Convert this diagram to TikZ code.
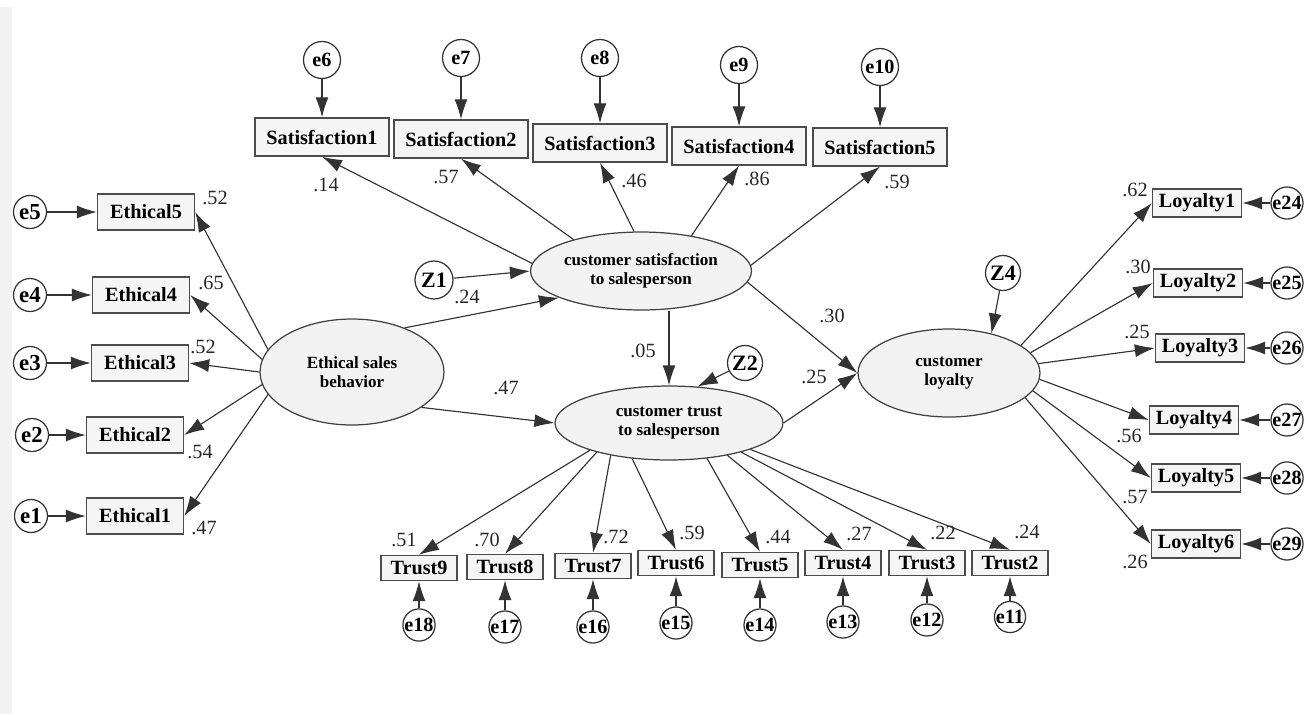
\documentclass[tikz,border=0pt]{standalone}
\usepackage{fontspec}
\setmainfont{Liberation Serif}
\usetikzlibrary{arrows.meta,shapes.geometric}

\tikzset{
  obs/.style={draw=black!70,fill=black!4,line width=0.8pt,inner sep=0pt,
    font=\fontsize{11.5}{12}\selectfont\rmfamily\bfseries},
  lat/.style={ellipse,draw=black!75,fill=black!5,line width=0.7pt,inner sep=0pt,
    align=center,font=\fontsize{9.7}{10.5}\selectfont\rmfamily\bfseries},
  err/.style={circle,draw=black!80,fill=white,line width=0.7pt,inner sep=0pt,
    font=\fontsize{11.5}{12}\selectfont\rmfamily\bfseries},
  num/.style={inner sep=0pt,text=black!85,font=\fontsize{11.5}{12}\selectfont\rmfamily\mdseries},
  arr/.style={draw=black!80,line width=0.65pt,-{Latex[length=4mm,width=2.6mm]}},
}

\begin{document}
\begin{tikzpicture}[x=0.02cm,y=-0.02cm]
  \useasboundingbox (0,0) rectangle (1308,714);
  \fill[black!5] (0,7) rectangle (12,714);

  % latent variables
  \node[lat,minimum width=3.68cm,minimum height=2.12cm] (esb) at (352,372) {Ethical sales\\behavior};
  \node[lat,minimum width=4.42cm,minimum height=1.56cm] (csat) at (641,271) {customer satisfaction\\to salesperson};
  \node[lat,minimum width=4.56cm,minimum height=1.48cm] (ctr) at (669,423) {customer trust\\to salesperson};
  \node[lat,minimum width=3.64cm,minimum height=1.76cm] (cl) at (949,373) {customer\\loyalty};

  \node[err,minimum size=0.76cm,font=\fontsize{12.5}{13}\selectfont\bfseries] (z1) at (434,280) {Z1};
  \node[err,minimum size=0.70cm,font=\fontsize{12.5}{13}\selectfont\bfseries] (z2) at (745,363) {Z2};
  \node[err,minimum size=0.70cm,font=\fontsize{12.5}{13}\selectfont\bfseries] (z4) at (1003,273) {Z4};

  % ethical items
  \foreach \i/\x/\y/\ex/\a in {5/146/212/30/165,4/141/295/30/172,3/140/363/30/180,2/135/435/32/188,1/135/516/31/195} {
    \node[obs,minimum width=1.94cm,minimum height=0.72cm] (eth\i) at (\x,\y) {Ethical\i};
    \node[err,minimum size=0.66cm,font=\fontsize{13}{13}\selectfont\bfseries] (e\i) at (\ex,\y) {e\i};
    \draw[arr] (e\i) -- (eth\i);
    \draw[arr] (esb.\a) -- (eth\i.east);
  }

  % satisfaction items
  \foreach \i/\e/\x/\y/\ey/\a in {1/6/322/137/60/176,2/7/461/139/58/155,3/8/600/143/58/100,4/9/739/146/65/35,5/10/880/147/67/3} {
    \node[obs,minimum width=2.68cm,minimum height=0.76cm] (sat\i) at (\x,\y) {Satisfaction\i};
    \node[err,minimum size=0.74cm] (e\e) at (\x,\ey) {e\e};
    \draw[arr] (e\e) -- (sat\i);
    \draw[arr] (csat.\a) -- (sat\i.south);
  }

  % loyalty items
  \foreach \i/\e/\x/\y/\a in {1/24/1197/203/21,2/25/1198/283/14,3/26/1200/348/6,4/27/1194/420/356,5/28/1196/478/348,6/29/1196/544/342} {
    \node[obs,minimum width=1.78cm,minimum height=0.56cm] (loy\i) at (\x,\y) {Loyalty\i};
    \node[err,minimum size=0.58cm] (e\e) at (1287,\y) {e\e};
    \draw[arr] (e\e) -- (loy\i);
    \draw[arr] (cl.\a) -- (loy\i.west);
  }

  % trust items
  \foreach \i/\e/\x/\y/\ey/\a in {9/18/419/568/625/199,8/17/505/567/627/202,7/16/593/566/627/209,6/15/676/563/623/224,5/14/760/565/625/317,4/13/843/563/622/331,3/12/927/563/620/338,2/11/1010/563/617/342} {
    \node[obs,minimum width=1.52cm,minimum height=0.5cm] (tr\i) at (\x,\y) {Trust\i};
    \node[err,minimum size=0.58cm] (e\e) at (\x,\ey) {e\e};
    \draw[arr] (e\e) -- (tr\i);
    \draw[arr] (ctr.\a) -- (tr\i.north);
  }

  % structural paths
  \draw[arr] (z1) -- (csat.west);
  \draw[arr] (esb.40) -- (csat.198);
  \draw[arr] (esb.333) -- (ctr.west);
  \draw[arr] (ctr.north |- csat.south) -- (ctr.north);
  \draw[arr] (z2) -- (ctr.52);
  \draw[arr] (csat.354) -- (cl.west);
  \draw[arr] (ctr.east) -- (cl.west);
  \draw[arr] (z4) -- (cl.43);

  % estimates
  \foreach \x/\y/\t [count=\k] in {215/198/.52,211/283/.65,203/347/.52,200/452/.54,204/528/.47,
      326/185/.14,446/177/.57,634/181/.46,757/179/.86,897/182/.59,
      467/297/.24,832/316/.30,643/351/.05,814/377/.25,506/388/.47,
      1135/190/.62,1138/267/.30,1137/332/.25,1129/436/.56,1135/497/.57,1135/562/.26,
      404/540/.51,487/540/.70,616/537/.72,692/533/.59,778/537/.44,859/534/.27,943/533/.22,1027/532/.24}
    \node[num] (w\k) at (\x,\y) {\t};
\end{tikzpicture}
\end{document}
